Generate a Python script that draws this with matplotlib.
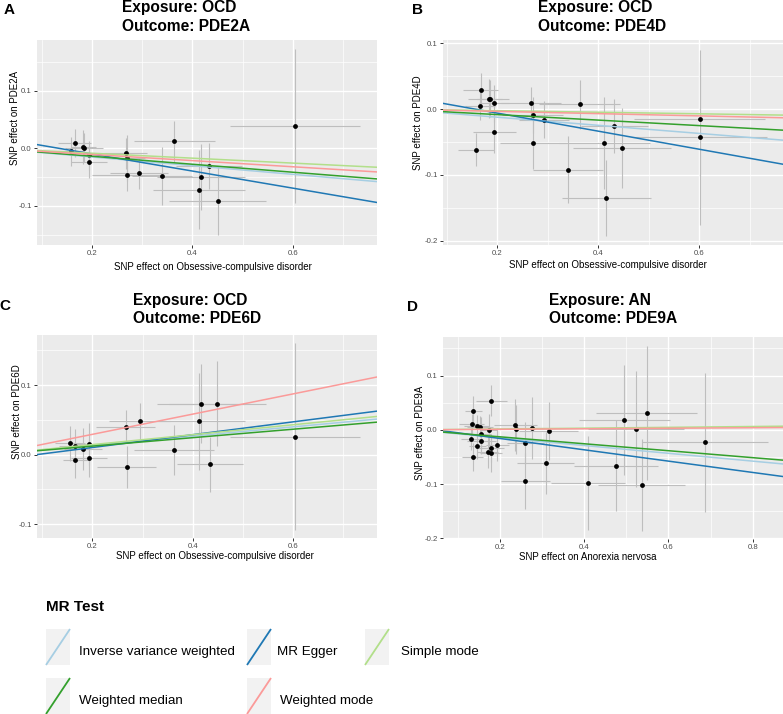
import matplotlib
matplotlib.use('Agg')
import matplotlib.pyplot as plt
from matplotlib.patches import Rectangle
from matplotlib.ticker import MultipleLocator, FuncFormatter

plt.rcParams['font.family'] = ['Liberation Sans', 'DejaVu Sans']

W, H = 783, 714

methods = ['Inverse variance weighted', 'MR Egger', 'Simple mode', 'Weighted median', 'Weighted mode']
method_colors = ['#a6cee3', '#1f78b4', '#b2df8a', '#33a02c', '#fb9a99']

# Panel A: OCD -> PDE2A
a_bx = [0.158, 0.166, 0.183, 0.185, 0.194, 0.194, 0.267, 0.270, 0.270, 0.294, 0.340, 0.364, 0.413, 0.417, 0.433, 0.450, 0.604]
a_by = [-0.005, 0.009, 0.002, 0.001, -0.012, -0.024, -0.009, -0.017, -0.046, -0.043, -0.048, 0.012, -0.072, -0.050, -0.031, -0.091, 0.039]
a_sx = [0.025, 0.033, 0.025, 0.038, 0.030, 0.036, 0.043, 0.035, 0.070, 0.058, 0.060, 0.080, 0.092, 0.088, 0.066, 0.097, 0.130]
a_sy = [0.025, 0.025, 0.030, 0.025, 0.025, 0.028, 0.027, 0.040, 0.029, 0.028, 0.051, 0.036, 0.069, 0.057, 0.040, 0.060, 0.134]
a_slopes = [-0.0755, -0.1487, -0.043, -0.0694, -0.0536]
a_egger_int = 0.0199

# Panel B: OCD -> PDE4D
b_bx = [0.158, 0.166, 0.167, 0.183, 0.185, 0.194, 0.194, 0.267, 0.270, 0.271, 0.293, 0.340, 0.363, 0.412, 0.416, 0.432, 0.448, 0.601, 0.602]
b_by = [-0.062, 0.005, 0.029, 0.016, 0.016, 0.009, -0.035, 0.009, -0.009, -0.052, -0.016, -0.092, 0.007, -0.052, -0.135, -0.026, -0.059, -0.015, -0.043]
b_sx = [0.036, 0.030, 0.035, 0.040, 0.025, 0.030, 0.043, 0.060, 0.060, 0.065, 0.050, 0.070, 0.080, 0.090, 0.088, 0.066, 0.097, 0.130, 0.133]
b_sy = [0.025, 0.022, 0.026, 0.030, 0.028, 0.028, 0.031, 0.024, 0.028, 0.039, 0.028, 0.051, 0.037, 0.070, 0.058, 0.041, 0.061, 0.087, 0.133]
b_slopes = [-0.0616, -0.1373, -0.0119, -0.0418, -0.0172]
b_egger_int = 0.0214

# Panel C: OCD -> PDE6D
c_bx = [0.156, 0.166, 0.166, 0.182, 0.193, 0.193, 0.266, 0.268, 0.294, 0.363, 0.413, 0.417, 0.434, 0.449, 0.604]
c_by = [0.016, 0.013, -0.008, 0.008, 0.015, -0.005, 0.040, -0.018, 0.048, 0.006, 0.048, 0.073, -0.014, 0.073, 0.026]
c_sx = [0.030, 0.033, 0.025, 0.038, 0.030, 0.036, 0.058, 0.058, 0.060, 0.080, 0.092, 0.088, 0.066, 0.097, 0.130]
c_sy = [0.025, 0.024, 0.025, 0.030, 0.030, 0.027, 0.024, 0.030, 0.026, 0.036, 0.070, 0.057, 0.040, 0.061, 0.134]
c_slopes = [0.0665, 0.0923, 0.0715, 0.0608, 0.1455]
c_egger_int = -0.0083

# Panel D: AN -> PDE9A
d_bx = [0.132, 0.133, 0.137, 0.136, 0.145, 0.146, 0.153, 0.155, 0.156, 0.171, 0.174, 0.179, 0.179, 0.180, 0.194,
        0.237, 0.238, 0.260, 0.260, 0.277, 0.309, 0.316, 0.410, 0.475, 0.495, 0.523, 0.537, 0.549, 0.687]
d_by = [-0.017, 0.010, 0.035, -0.050, 0.007, -0.029, 0.006, -0.007, -0.020, -0.041, 0.000, -0.034, -0.043, 0.054, -0.027,
        0.009, 0.001, -0.024, -0.094, 0.003, -0.061, -0.002, -0.098, -0.066, 0.018, 0.001, -0.102, 0.031, -0.023]
d_sx = [0.025, 0.030, 0.020, 0.025, 0.030, 0.020, 0.030, 0.025, 0.035, 0.025, 0.020, 0.030, 0.025, 0.036, 0.028,
        0.050, 0.045, 0.044, 0.058, 0.034, 0.068, 0.070, 0.088, 0.100, 0.108, 0.113, 0.103, 0.120, 0.150]
d_sy = [0.020, 0.020, 0.027, 0.025, 0.020, 0.025, 0.020, 0.030, 0.025, 0.030, 0.030, 0.025, 0.035, 0.028, 0.031,
        0.048, 0.045, 0.038, 0.051, 0.057, 0.057, 0.054, 0.086, 0.084, 0.102, 0.107, 0.085, 0.124, 0.128]
d_slopes = [-0.072, -0.1043, 0.0077, -0.064, 0.0049]
d_egger_int = 0.0050


def fx(px):
    return px / W


def fy(py):
    return 1 - py / H


def tick_fmt(v, pos):
    s = f'{v:.1f}'
    return '0.0' if s == '-0.0' else s


def draw_panel(rect, bx, by, sx, sy, slopes, egger_int, xlim, ylim):
    left, top, right, bottom = rect
    ax = fig.add_axes([fx(left), fy(bottom), (right - left) / W, (bottom - top) / H])
    ax.set_facecolor('#EBEBEB')
    for s in ax.spines.values():
        s.set_visible(False)

    ax.errorbar(bx, by, yerr=sy, fmt='none', ecolor='#BEBEBE', elinewidth=0.8, zorder=2)
    ax.errorbar(bx, by, xerr=sx, fmt='none', ecolor='#BEBEBE', elinewidth=0.8, zorder=2)
    ax.scatter(bx, by, s=12, color='black', linewidths=0, zorder=3)
    for m, slope, col in zip(methods, slopes, method_colors):
        b0 = egger_int if m == 'MR Egger' else 0.0
        ax.axline((0, b0), slope=slope, color=col, lw=1.1, zorder=4)

    ax.set_xlim(*xlim)
    ax.set_ylim(*ylim)
    ax.xaxis.set_major_locator(MultipleLocator(0.2))
    ax.xaxis.set_minor_locator(MultipleLocator(0.1))
    ax.yaxis.set_major_locator(MultipleLocator(0.1))
    ax.yaxis.set_minor_locator(MultipleLocator(0.05))
    ax.xaxis.set_major_formatter(FuncFormatter(tick_fmt))
    ax.yaxis.set_major_formatter(FuncFormatter(tick_fmt))
    ax.grid(which='major', color='white', lw=1.0)
    ax.grid(which='minor', color='white', lw=0.5)
    ax.set_axisbelow(True)
    ax.tick_params(which='major', length=2.2, width=0.7, color='#333333',
                   labelsize=5.6, labelcolor='#4D4D4D', pad=1.5)
    ax.tick_params(which='minor', length=0)
    return ax


fig = plt.figure(figsize=(W / 100, H / 100), dpi=100)

draw_panel((37, 40, 377, 245), a_bx, a_by, a_sx, a_sy, a_slopes, a_egger_int, (0.091, 0.767), (-0.168, 0.188))
draw_panel((443, 40, 783, 245), b_bx, b_by, b_sx, b_sy, b_slopes, b_egger_int, (0.0925, 0.766), (-0.2065, 0.105))
draw_panel((37, 335, 377, 538), c_bx, c_by, c_sx, c_sy, c_slopes, c_egger_int, (0.0897, 0.767), (-0.12, 0.172))
draw_panel((443, 337, 783, 539), d_bx, d_by, d_sx, d_sy, d_slopes, d_egger_int, (0.065, 0.872), (-0.201, 0.171))

# titles, tags and axis labels (pixel positions from the reference)
titles = [(122, 12, 31, 'Exposure: OCD', 'Outcome: PDE2A'),
          (538, 12, 31, 'Exposure: OCD', 'Outcome: PDE4D'),
          (133, 305, 323, 'Exposure: OCD', 'Outcome: PDE6D'),
          (549, 305, 323, 'Exposure: AN', 'Outcome: PDE9A')]
for x, y1, y2, t1, t2 in titles:
    fig.text(fx(x), fy(y1), t1, ha='left', va='baseline', fontsize=11.2, fontweight='bold')
    fig.text(fx(x), fy(y2), t2, ha='left', va='baseline', fontsize=11.2, fontweight='bold')

tags = [(4, 14, 'A'), (412, 14, 'B'), (-1, 310, 'C'), (407, 311, 'D')]
for x, y, t in tags:
    fig.text(fx(x), fy(y), t, ha='left', va='baseline', fontsize=11, fontweight='bold')

xlabels = [(213, 270, 'SNP effect on Obsessive-compulsive disorder'),
           (608, 268, 'SNP effect on Obsessive-compulsive disorder'),
           (215, 559, 'SNP effect on Obsessive-compulsive disorder'),
           (588, 560, 'SNP effect on Anorexia nervosa')]
for x, y, t in xlabels:
    fig.text(fx(x), fy(y), t, ha='center', va='baseline', fontsize=7.0, color='black')

ylabels = [(15, 118, 'SNP effect on PDE2A'),
           (418, 123, 'SNP effect on PDE4D'),
           (17, 412, 'SNP effect on PDE6D'),
           (420, 433, 'SNP effect on PDE9A')]
for x, y, t in ylabels:
    fig.text(fx(x), fy(y), t, ha='center', va='center', rotation=90, fontsize=7.0, color='black')

# legend drawn in pixel space
lax = fig.add_axes([0, 0, 1, 140 / H])
lax.set_xlim(0, W)
lax.set_ylim(H, H - 140)
lax.axis('off')
lax.text(46, 611, 'MR Test', ha='left', va='baseline', fontsize=11, fontweight='bold')

key_x = [46, 247, 365, 46, 247]
key_y = [629, 629, 629, 678, 678]
text_x = [79, 277, 401, 79, 280]
text_y = [655, 655, 655, 704, 704]
for m, col, kx, ky, tx, ty in zip(methods, method_colors, key_x, key_y, text_x, text_y):
    lax.add_patch(Rectangle((kx, ky), 24, 36, facecolor='#F2F2F2', edgecolor='none'))
    lax.plot([kx, kx + 24], [ky + 36, ky], color=col, lw=1.3, solid_capstyle='butt')
    lax.text(tx, ty, m, ha='left', va='baseline', fontsize=9.6)

fig.savefig('out.png', dpi=100)
